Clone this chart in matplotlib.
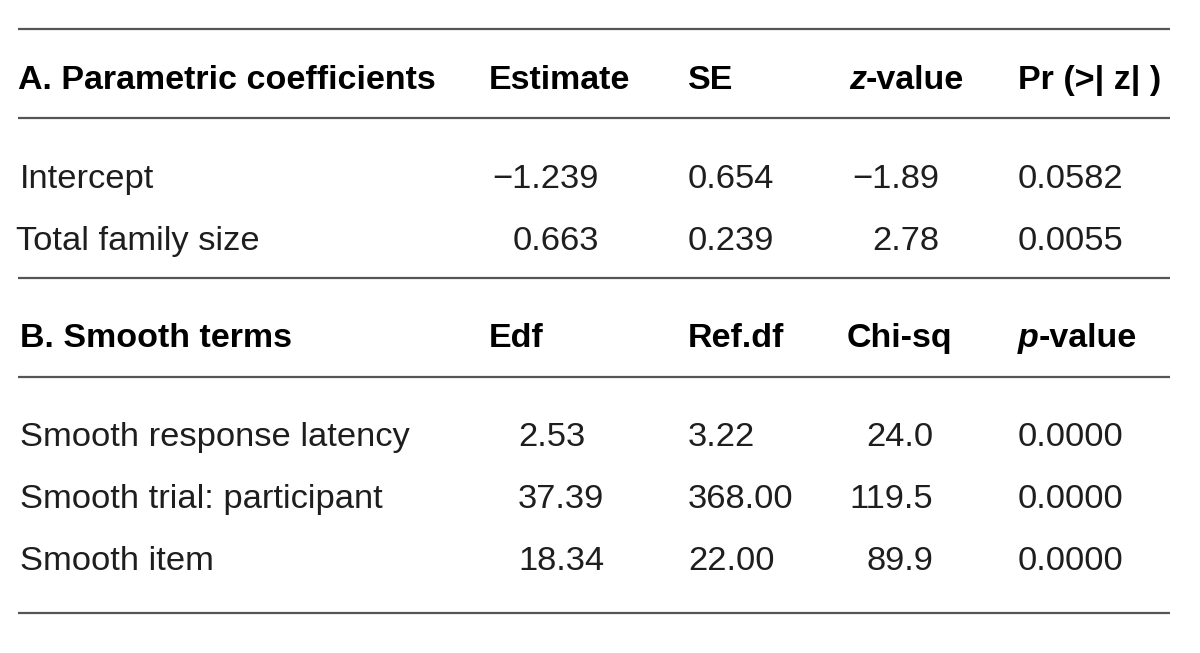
import matplotlib
matplotlib.use("Agg")
import matplotlib.pyplot as plt
from matplotlib import font_manager as fm

# ---------------- data ----------------
param_header = "A. Parametric coefficients"
param_cols = ["Estimate", "SE", "z-value", "Pr (>| z| )"]
param_rows = ["Intercept", "Total family size"]
param_estimate = [-1.239, 0.663]
param_se = [0.654, 0.239]
param_z = [-1.89, 2.78]
param_pr = [0.0582, 0.0055]

smooth_header = "B. Smooth terms"
smooth_cols = ["Edf", "Ref.df", "Chi-sq", "p-value"]
smooth_rows = ["Smooth response latency", "Smooth trial: participant", "Smooth item"]
smooth_edf = [2.53, 37.39, 18.34]
smooth_refdf = [3.22, 368.00, 22.00]
smooth_chisq = [24.0, 119.5, 89.9]
smooth_p = [0.0000, 0.0000, 0.0000]

# ---------------- fonts ----------------
avail = {f.name for f in fm.fontManager.ttflist}
def pick(*names):
    for n in names:
        if n in avail:
            return n
    return "DejaVu Sans"
HEAD_FONT = pick("Liberation Sans", "Roboto")
BODY_FONT = pick("Liberation Sans", "Roboto")

def fmt(v, d):
    s = f"{abs(v):.{d}f}"
    return ("\u2212" + s) if v < 0 else s

# ---------------- figure ----------------
W, H = 1200, 653
fig = plt.figure(figsize=(W / 100, H / 100), dpi=100)
ax = fig.add_axes([0, 0, 1, 1])
ax.set_xlim(0, W)
ax.set_ylim(H, 0)
ax.axis("off")

LINE_C = "#555555"
for y in [29, 118, 278, 377, 613]:
    ax.plot([18, 1170], [y, y], color=LINE_C, lw=1.6, solid_capstyle="butt")

HS = 24.5   # header font size
BS = 24.8   # body font size
TXT = "#1e1e1e"

def head(x, y, s, italic_first=False):
    if italic_first:
        t1 = ax.text(x, y, s[0], fontsize=HS, fontfamily=HEAD_FONT, fontweight="bold",
                     fontstyle="italic", color="black", va="baseline", ha="left")
        ax.annotate(s[1:], xy=(1, 0), xycoords=t1, fontsize=HS, fontfamily=HEAD_FONT,
                    fontweight="bold", color="black", va="bottom", ha="left")
    else:
        ax.text(x, y, s, fontsize=HS, fontfamily=HEAD_FONT, fontweight="bold",
                color="black", va="baseline", ha="left")

def body(x, y, s, ha="left"):
    ax.text(x, y, s, fontsize=BS, fontfamily=BODY_FONT, fontweight="normal",
            color=TXT, va="baseline", ha=ha)

# Section A
yA = 89
head(18, yA, param_header)
head(489, yA, param_cols[0])
head(688, yA, param_cols[1])
head(849, yA, param_cols[2], italic_first=True)
head(1018, yA, param_cols[3])

rowA_y = [188, 250]
for i, name in enumerate(param_rows):
    y = rowA_y[i]
    body(16 if i else 20, y, name)
    body(599, y, fmt(param_estimate[i], 3), ha="right")
    body(688, y, fmt(param_se[i], 3))
    body(939, y, fmt(param_z[i], 2), ha="right")
    body(1018, y, fmt(param_pr[i], 4))

# Section B
yB = 347
head(20, yB, smooth_header)
head(489, yB, smooth_cols[0])
head(688, yB, smooth_cols[1])
head(847, yB, smooth_cols[2])
head(1018, yB, smooth_cols[3], italic_first=True)

rowB_y = [446, 508, 570]
for i, name in enumerate(smooth_rows):
    y = rowB_y[i]
    body(20, y, name)
    body(518, y, fmt(smooth_edf[i], 2))
    body(688, y, fmt(smooth_refdf[i], 2))
    body(933, y, fmt(smooth_chisq[i], 1), ha="right")
    body(1018, y, fmt(smooth_p[i], 4))

fig.savefig("out.png", dpi=100, facecolor="white")
